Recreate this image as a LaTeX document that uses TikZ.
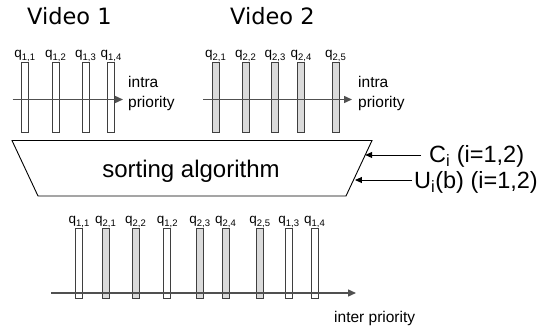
\documentclass[tikz,border=0pt]{standalone}
\usepackage{fontspec}
\setmainfont{Liberation Sans}
\newfontfamily\videofont{DejaVu Sans}
\usetikzlibrary{arrows.meta,calc}

\definecolor{barline}{HTML}{3F3F3F}
\definecolor{barfill}{HTML}{DADADA}
\definecolor{axisgray}{HTML}{505050}

% queue name with its lowered index
\newcommand{\qname}[1]{q\raisebox{-3pt}{\fontsize{9.5}{9.5}\selectfont #1}}

\begin{document}
\begin{tikzpicture}[x=1pt,y=-1pt,
  qbar/.style={draw=barline,line width=0.9pt,fill=white,minimum width=7pt,
    minimum height=70pt,inner sep=0pt},
  qbarB/.style={qbar,fill=barfill},
  qlab/.style={anchor=base,inner sep=0pt,font=\fontsize{13.5}{13.5}\selectfont},
  axis/.style={draw=axisgray,line width=1.4pt,-{Triangle[length=8pt,width=7pt]}},
  small/.style={anchor=base west,inner sep=0pt,font=\fontsize{15.5}{15.5}\selectfont},
  big/.style={inner sep=0pt,font=\fontsize{23.5}{23.5}\selectfont},
  title/.style={anchor=base west,inner sep=0pt,font=\videofont\fontsize{22.5}{22.5}\selectfont},
  feed/.style={draw=black,line width=0.9pt,-{Triangle[length=7pt,width=6pt]}}]

\useasboundingbox (0,0) rectangle (549,331);

% titles
\node[title] (v1) at (27,25) {Video 1};
\node[title] (v2) at (230,25) {Video 2};

% queues of video 1
\foreach \n/\x in {1/24.7,2/55.5,3/85.5,4/111}{
  \node[qbar] (a\n) at (\x,97.5) {};
  \node[qlab] (la\n) at ($(a\n.north)+(0,-5)$) {\qname{1,\n}};
}
% queues of video 2
\foreach \n/\x in {1/215.5,2/245.5,3/275,4/301,5/335.5}{
  \node[qbarB] (b\n) at (\x,97.5) {};
  \node[qlab] (lb\n) at ($(b\n.north)+(0,-5)$) {\qname{2,\n}};
}

% intra priority axes
\coordinate (s1) at (12.7,99.5);
\coordinate (e1) at (123,99.5);
\coordinate (s2) at (203,99.5);
\coordinate (e2) at (352,99.5);
\draw[axis] (s1) -- (e1);
\draw[axis] (s2) -- (e2);
\node[small] (ia) at (128,87.5) {intra};
\node[small] (pa) at (128,107.5) {priority};
\node[small] (ib) at (358,87.5) {intra};
\node[small] (pb) at (358,107.5) {priority};

% sorting stage
\coordinate (tl) at (12,140.5);
\coordinate (tr) at (372,140.5);
\coordinate (br) at (346,196);
\coordinate (bl) at (38,196);
\draw[black,line width=0.9pt,line join=miter] (tl) -- (tr) -- (br) -- (bl) -- cycle;
\node[big,anchor=base,font=\fontsize{24}{24}\selectfont] (sort) at (191,178) {sorting algorithm};

% inputs of the sorting stage
\coordinate (cTip) at ($(tr)!0.261!(br)$);
\coordinate (uTip) at ($(tr)!0.712!(br)+(1.5,0)$);
\node[big,anchor=base west,inner xsep=8pt] (clab) at (421,163) {C\textsubscript{i} (i=1,2)};
\node[big,anchor=base west,inner xsep=2pt] (ulab) at (412,189) {U\textsubscript{i}(b) (i=1,2)};
\draw[feed] (clab.west |- cTip) -- (cTip);
\draw[feed] (ulab.west |- uTip) -- (uTip);

% merged output queue
\foreach \n/\x/\st/\lab in {1/79/qbar/{1,1},2/105.5/qbarB/{2,1},3/135.5/qbarB/{2,2},
    4/167.3/qbar/{1,2},5/199.7/qbarB/{2,3},6/225.5/qbarB/{2,4},7/259.7/qbarB/{2,5},
    8/288.7/qbar/{1,3},9/314.5/qbar/{1,4}}{
  \node[\st] (c\n) at (\x,263.8) {};
  \node[qlab] (lc\n) at ($(c\n.north)+(0,-5)$) {\qname{\lab}};
}
\coordinate (s3) at (51,293);
\coordinate (e3) at (356,293);
\draw[axis] (s3) -- (e3);
\node[small,anchor=base west] (inter) at (334,322) {inter priority};
\end{tikzpicture}
\end{document}
